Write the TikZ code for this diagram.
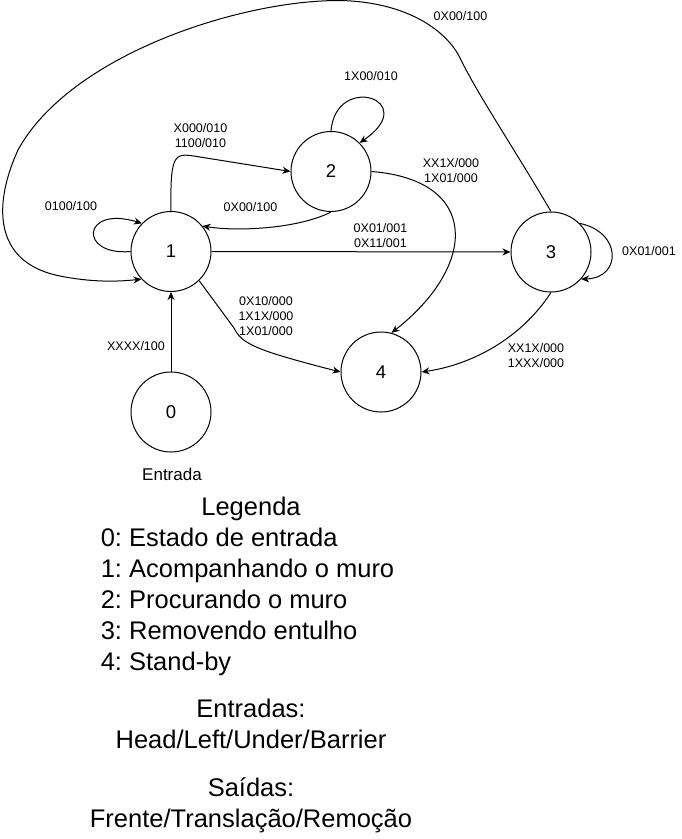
\documentclass[tikz,border=0pt]{standalone}
\usepackage{fontspec}
\setmainfont{Liberation Sans}
\usetikzlibrary{arrows.meta}
\frenchspacing
\begin{document}
\begin{tikzpicture}[x=1pt,y=-1pt,
  state/.style={circle,draw,line width=1pt,minimum size=80pt,inner sep=0pt,font=\fontsize{18.5}{22}\selectfont},
  lbl/.style={font=\fontsize{12.5}{15}\selectfont,align=center,inner sep=0pt},
  leg/.style={font=\fontsize{25.5}{31}\selectfont,inner sep=0pt,anchor=base},
  legl/.style={leg,anchor=base west},
  edge/.style={line width=1pt,-{Stealth[length=8pt,width=7pt,inset=2.5pt]}}]
\useasboundingbox (0,0) rectangle (682,839);
% states
\node[state] (n0) at (171,412) {0};
\node[state] (n1) at (171,251.5) {1};
\node[state] (n2) at (331,171.5) {2};
\node[state] (n3) at (551,252) {3};
\node[state] (n4) at (381,372) {4};
% transitions
\draw[edge] (n0) -- (n1);
\draw[edge] (n1.west) .. controls (78,256) and (82,205) .. (n1.136);
\draw[edge] (n1.north) .. controls (170,150) and (175,153) .. (200,157) -- (n2.west);
\draw[edge] (n2.south) .. controls (300,228) and (240,232) .. (n1.39);
\draw[edge] (n2.north) .. controls (336,72) and (422,100) .. (n2.45);
\draw[edge] (n2.east) .. controls (480,180) and (478,265) .. (n4.75.5);
\draw[edge] (n1) -- (n3);
\draw[edge] (n3.45) .. controls (622,232) and (622,278) .. (n3.-42);
\draw[edge] (n3.north) .. controls (515,150) and (478,95) .. (460,58)
  .. controls (448,33) and (410,2) .. (340,0.5)
  .. controls (240,0) and (70,55) .. (18,150)
  .. controls (-5,200) and (-10,262) .. (60,276)
  .. controls (90,282) and (115,282) .. (n1.223);
\draw[edge] (n1.-46) -- (234,328) .. controls (242,344) and (255,350) .. (n4.west);
\draw[edge] (n3.south) .. controls (520,340) and (470,365) .. (n4.east);
% labels
\node[lbl] (l01) at (136,346) {XXXX/100};
\node[lbl] (l11) at (71,205.7) {0100/100};
\node[lbl] (l12) at (200.5,135.8) {X000/010\\1100/010};
\node[lbl] (l21) at (250.5,206.7) {0X00/100};
\node[lbl] (l22) at (371,75.7) {1X00/010};
\node[lbl] (l24) at (451,170.8) {XX1X/000\\1X01/000};
\node[lbl] (l13) at (380.5,236) {0X01/001\\0X11/001};
\node[lbl] (l33) at (649,251) {0X01/001};
\node[lbl] (l31) at (460.5,15.7) {0X00/100};
\node[lbl] (l14) at (266,316) {0X10/000\\1X1X/000\\1X01/000};
\node[lbl] (l34) at (536,355.5) {XX1X/000\\1XXX/000};
\node[font=\fontsize{17}{20}\selectfont,inner sep=0pt,anchor=base] (ent) at (172,480.5) {Entrada};
% legend
\node[leg] (lg) at (251,515) {Legenda};
\node[legl] (lg0) at (100.6,546) {0: Estado de entrada};
\node[legl] (lg1) at (100.6,577) {1: Acompanhando o muro};
\node[legl] (lg2) at (100.6,608) {2: Procurando o muro};
\node[legl] (lg3) at (100.6,639) {3: Removendo entulho};
\node[legl] (lg4) at (100.6,670.5) {4: Stand-by};
\node[leg] (le1) at (251,717.5) {Entradas:};
\node[leg] (le2) at (251,748.5) {Head/Left/Under/Barrier};
\node[leg] (ls1) at (251,796) {Saídas:};
\node[leg] (ls2) at (251,827) {Frente/Translação/Remoção};
\end{tikzpicture}
\end{document}
